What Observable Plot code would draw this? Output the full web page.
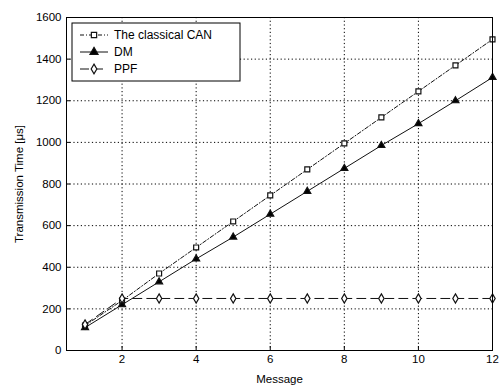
<!DOCTYPE html>
<html><head><meta charset="utf-8">
<script src="https://cdn.jsdelivr.net/npm/d3@7"></script>
<script src="https://cdn.jsdelivr.net/npm/@observablehq/plot@0.6"></script>
<style>
body{margin:0;background:#fff;}
#chart svg{font-family:"Liberation Sans",Arial,sans-serif;}
</style></head>
<body><div id="chart"></div>
<script>
const messages = [1,2,3,4,5,6,7,8,9,10,11,12];
const canValues = [120,240,370,495,620,745,870,995,1120,1245,1370,1495];
const dmValues  = [110,220,330,440,545,655,765,875,985,1090,1200,1312];
const ppfValues = [125,250,250,250,250,250,250,250,250,250,250,250];
const seriesNames = ["The classical CAN","DM","PPF"];
const xTicks = [2,4,6,8,10,12];
const yTicks = [0,200,400,600,800,1000,1200,1400,1600];

const data = [];
messages.forEach((m,i)=>{
  data.push({m, v:canValues[i], s:seriesNames[0]});
  data.push({m, v:dmValues[i], s:seriesNames[1]});
  data.push({m, v:ppfValues[i], s:seriesNames[2]});
});
const styles = {
  "The classical CAN": {dash:"4,2,1,2", symbol:"square", fill:"white", r:2.8},
  "DM": {dash:null, symbol:"triangle", fill:"black", r:2.6},
  "PPF": {dash:"9,5", symbol:"diamond", fill:"white", r:2.8}
};

const marks = [
  Plot.ruleX(xTicks, {x:d=>d, stroke:"#000", strokeDasharray:"1.2,2.5", strokeWidth:1}),
  Plot.ruleY(yTicks, {y:d=>d, stroke:"#000", strokeDasharray:"1.2,2.5", strokeWidth:1})
];
for (const name of seriesNames) {
  const d = data.filter(p=>p.s===name);
  const st = styles[name];
  marks.push(Plot.line(d, {x:"m", y:"v", stroke:"#111", strokeWidth:1, strokeDasharray:st.dash}));
  marks.push(Plot.dot(d, {x:"m", y:"v", symbol:st.symbol, r:st.r, stroke:"#111", fill:st.fill, strokeWidth:1.2}));
}
marks.push(Plot.frame({stroke:"#000", strokeWidth:1}));

const chart = Plot.plot({
  width:500, height:388,
  marginLeft:66, marginRight:8, marginTop:17, marginBottom:38,
  style:{fontSize:"11.5px", fontFamily:"Liberation Sans, Arial, sans-serif", background:"white"},
  x:{type:"linear", domain:[0.5,12], ticks:xTicks, tickSize:-4, tickPadding:8, label:"Message", labelAnchor:"center", labelOffset:32, labelArrow:"none", tickFormat:d=>String(d)},
  y:{type:"linear", domain:[0,1600], ticks:yTicks, tickSize:-4, tickPadding:9, label:"Transmission Time [μs]", labelAnchor:"center", labelOffset:52, labelArrow:"none", tickFormat:d=>String(d)},
  marks
});
document.getElementById("chart").appendChild(chart);

// legend box (inside plot, top-left)
const svg = d3.select(chart);
const lg = svg.append("g").attr("transform","translate(72,23)").attr("text-anchor","start");
lg.append("rect").attr("width",168).attr("height",58).attr("fill","white").attr("stroke","#000").attr("stroke-width",1);
const symGen = {square:d3.symbolSquare, triangle:d3.symbolTriangle, diamond:d3.symbolDiamond};
seriesNames.forEach((name,i)=>{
  const st = styles[name];
  const y = 12 + i*17;
  lg.append("line").attr("x1",8).attr("x2",36).attr("y1",y).attr("y2",y)
    .attr("stroke","#111").attr("stroke-width",1).attr("stroke-dasharray",st.dash);
  lg.append("path").attr("d",d3.symbol(symGen[st.symbol],28)()).attr("transform",`translate(22,${y})`)
    .attr("fill",st.fill).attr("stroke","#111").attr("stroke-width",1.2);
  lg.append("text").attr("x",42).attr("y",y).attr("dy","0.35em").attr("font-size","12px").attr("text-anchor","start").text(name);
});
</script></body></html>
